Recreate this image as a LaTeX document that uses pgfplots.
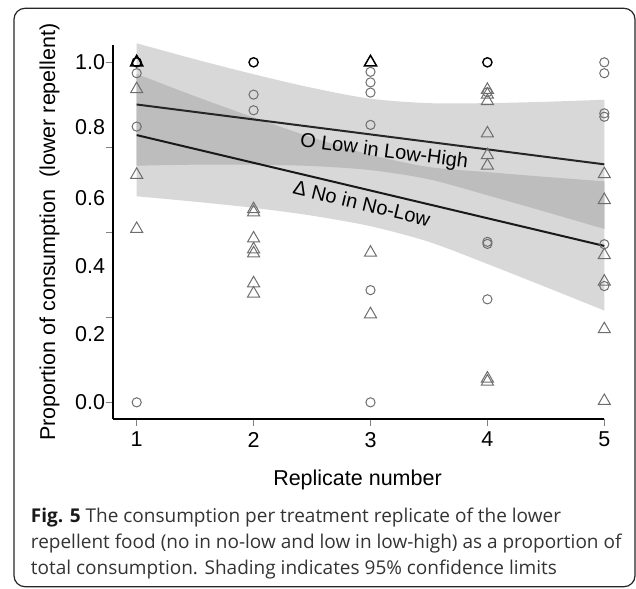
\documentclass[border=0pt]{standalone}
\usepackage{fontspec}
\setmainfont{Liberation Sans}
\newfontfamily\capfont{Open Sans}
\usepackage{pgfplots}
\usepackage{pgfplotstable}
\usepgfplotslibrary{fillbetween}
\pgfplotsset{compat=1.18}
\definecolor{bandlight}{HTML}{D8D8D8}
\definecolor{banddark}{HTML}{BDBDBD}
\definecolor{markgray}{HTML}{6E6E6E}

\pgfplotstableread{
x    lowup  lowlo  noup   nolo
1    1.056  0.696  0.966  0.606
1.5  1.009  0.699  0.900  0.590
2    0.965  0.699  0.838  0.572
2.5  0.925  0.695  0.779  0.549
3    0.893  0.683  0.728  0.518
3.5  0.880  0.656  0.692  0.472
4    0.880  0.609  0.677  0.407
4.5  0.884  0.560  0.663  0.339
5    0.890  0.510  0.650  0.270
}\bands

\pgfplotstableread{
x y
1 0.968
1 0.811
1 0.0
2 0.905
2 0.859
3 0.972
3 0.941
3 0.911
3 0.816
3 0.33
3 0.0
4 0.912
4 0.472
4 0.466
4 0.303
5 1.0
5 0.968
5 0.850
5 0.840
5 0.465
5 0.342
}\circlesgray

\pgfplotstableread{
x y
1 1.0
2 1.0
4 1.0
}\circlesdark

\pgfplotstableread{
x y
1 0.921
1 0.669
1 0.510
2 0.568
2 0.559
2 0.482
2 0.450
2 0.438
2 0.350
2 0.320
3 0.440
3 0.259
4 0.919
4 0.905
4 0.886
4 0.791
4 0.727
4 0.696
4 0.070
4 0.061
5 0.671
5 0.595
5 0.433
5 0.355
5 0.215
5 0.004
}\trigray

\pgfplotstableread{
x y
1 1.0
3 1.0
}\tridark

\begin{document}
\begin{tikzpicture}
\path (0,0) rectangle (636pt,588pt);
\draw[line width=1.2pt, black!85, rounded corners=11pt] (14pt,1.3pt) rectangle (635pt,579.7pt);
\begin{axis}[
  at={(113.3pt,169pt)}, anchor=south west,
  scale only axis, width=491pt, height=374pt,
  xmin=0.8, xmax=5, ymin=-0.049, ymax=1.051,
  axis x line*=bottom, axis y line*=left,
  axis line style={line width=2.2pt, black, -},
  xtick={1,2,3,4,5}, xticklabels={1,2,3,4,5},
  ytick={0,0.25,0.5,0.75,1}, yticklabels={},
  extra y ticks={0,0.2,0.4,0.6,0.81,1},
  extra y tick labels={0.0,0.2,0.4,0.6,0.8,1.0},
  extra y tick style={major tick length=0pt},
  tick align=outside, major tick length=7pt,
  tick style={draw=black!50, line width=0.9pt},
  ticklabel style={font=\fontsize{21.5}{24}\selectfont, text=black},
  yticklabel style={inner sep=0pt, xshift=-8pt},
  xticklabel style={inner sep=0pt, yshift=-6pt},
  clip=false,
]
\addplot[name path=lu, draw=none, smooth, forget plot] table[x=x, y=lowup] {\bands};
\addplot[name path=ll, draw=none, smooth, forget plot] table[x=x, y=lowlo] {\bands};
\addplot[name path=nu, draw=none, smooth, forget plot] table[x=x, y=noup] {\bands};
\addplot[name path=nl, draw=none, smooth, forget plot] table[x=x, y=nolo] {\bands};
\addplot[fill=bandlight, draw=none] fill between[of=lu and ll];
\addplot[fill=bandlight, draw=none] fill between[of=nu and nl];
\addplot[fill=banddark, draw=none] fill between[of=nu and ll];

\addplot[black!85, line width=2pt] coordinates {(1,0.876) (5,0.700)};
\addplot[black!90, line width=2pt] coordinates {(1,0.786) (5,0.460)};

\addplot[only marks, mark=o, mark size=4.6pt, markgray, mark options={line width=1pt}] table {\circlesgray};
\addplot[only marks, mark=triangle, mark size=7pt, markgray, mark options={line width=1pt}] table {\trigray};
\addplot[only marks, mark=o, mark size=4.6pt, black, mark options={line width=1.4pt}] table {\circlesdark};
\addplot[only marks, mark=triangle, mark size=7pt, black, mark options={line width=1.5pt}] table {\tridark};

\node[rotate=-7.3, font=\fontsize{20}{24}\selectfont, inner sep=0pt] at (axis cs:3.117,0.736) {O Low in Low-High};
\node[rotate=-13.5, font=\fontsize{20}{24}\selectfont, inner sep=0pt] at (axis cs:2.926,0.586) {Δ No in No-Low};
\end{axis}
\node[rotate=90, anchor=base, font=\fontsize{21.5}{24}\selectfont, inner sep=0pt] at (55pt,356pt) {Proportion of consumption~ (lower repellent)};
\node[anchor=base, font=\fontsize{21.5}{24}\selectfont, inner sep=0pt] at (357.5pt,102pt) {Replicate number};
\begin{scope}[every node/.style={anchor=base west, inner sep=0pt, font=\capfont\fontsize{19}{26}\selectfont, text=black!80}]
\node at (30.7pt,65.3pt) {\textbf{\color{black!90}Fig. 5} The consumption per treatment replicate of the lower};
\node at (30.7pt,39.7pt) {repellent food (no in no-low and low in low-high) as a proportion of};
\node at (30.7pt,13.7pt) {total consumption. Shading indicates 95\% confidence limits};
\end{scope}
\end{tikzpicture}
\end{document}
